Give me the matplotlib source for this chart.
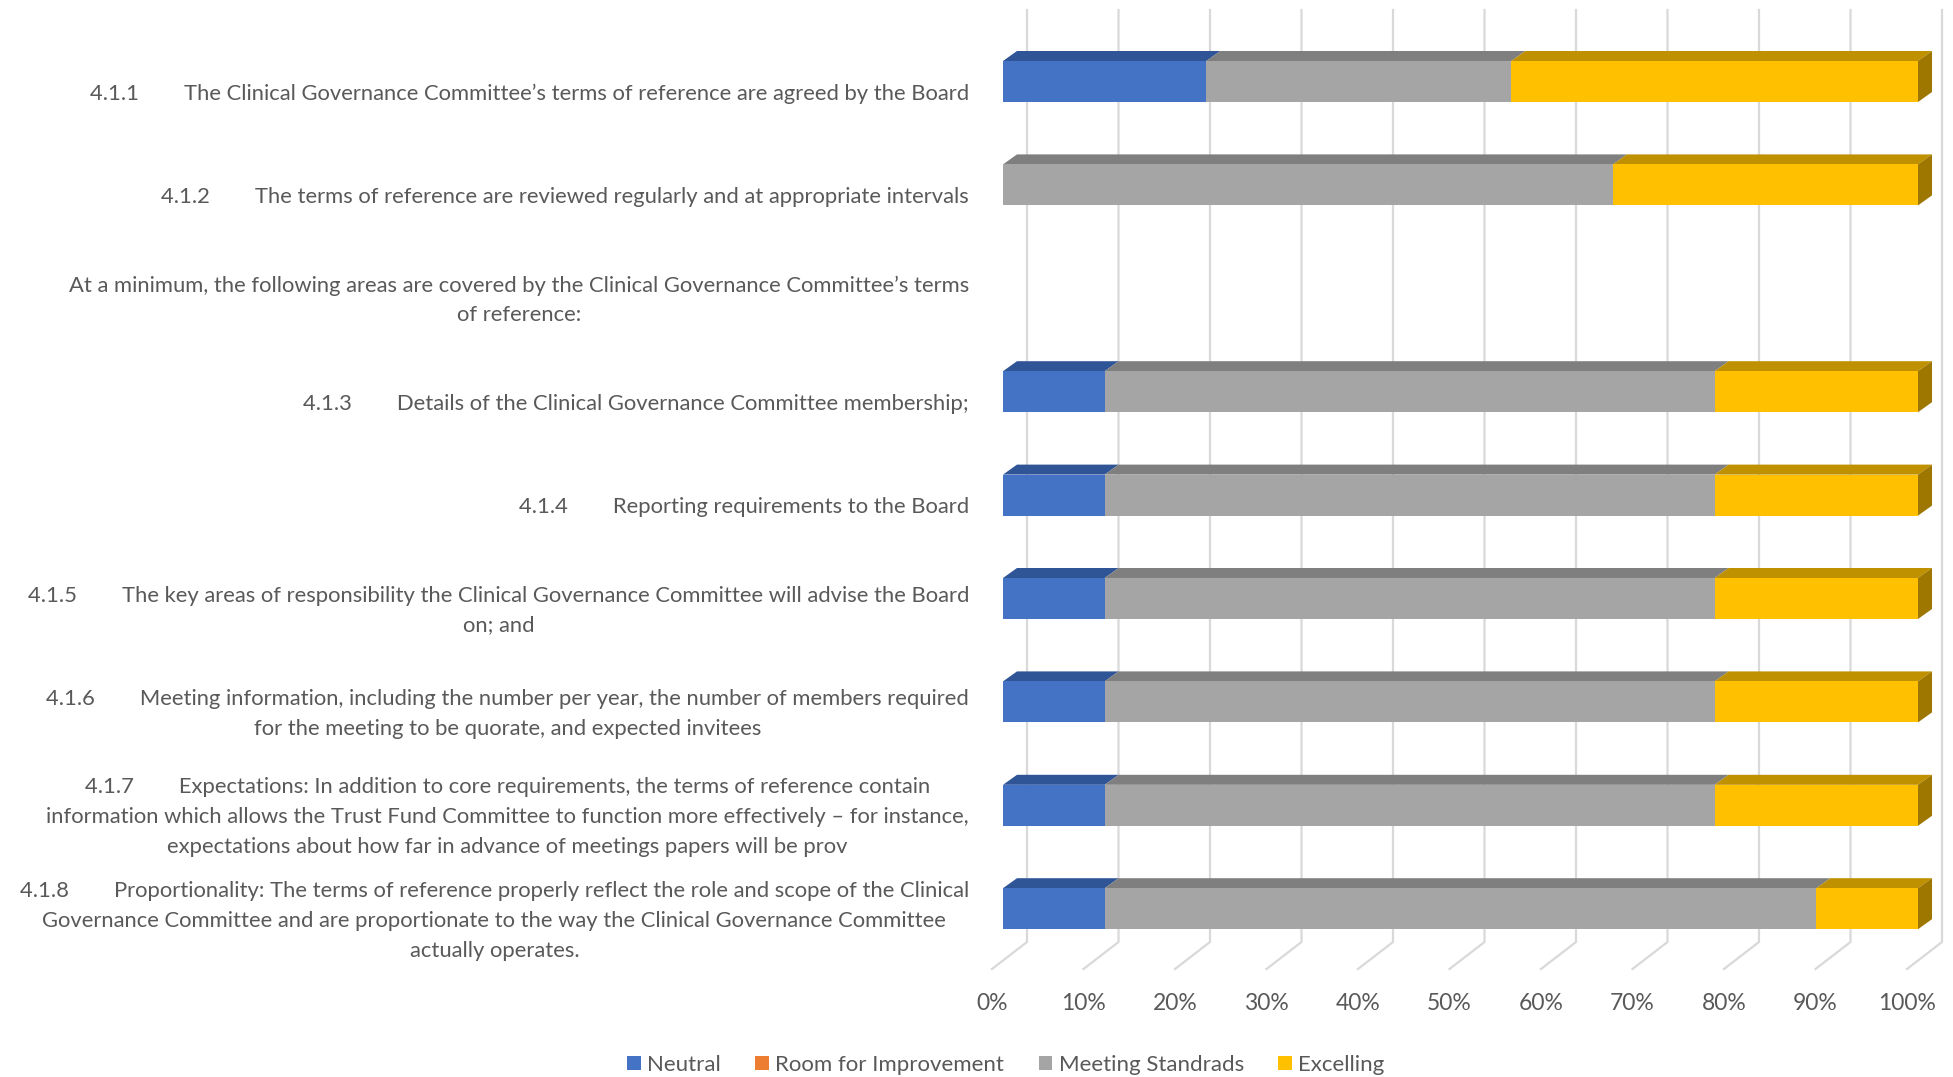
import matplotlib
matplotlib.use("Agg")
import matplotlib.pyplot as plt
from matplotlib.patches import Polygon, Patch
from matplotlib import font_manager

#---------- data ----------

categories = [
    "4.1.1        The Clinical Governance Committee\u2019s terms of reference are agreed by the Board",
    "4.1.2        The terms of reference are reviewed regularly and at appropriate intervals",
    "At a minimum, the following areas are covered by the Clinical Governance Committee\u2019s terms\nof reference:",
    "4.1.3        Details of the Clinical Governance Committee membership;",
    "4.1.4        Reporting requirements to the Board",
    "4.1.5        The key areas of responsibility the Clinical Governance Committee will advise the Board\non; and",
    "4.1.6        Meeting information, including the number per year, the number of members required\nfor the meeting to be quorate, and expected invitees",
    "4.1.7        Expectations: In addition to core requirements, the terms of reference contain\ninformation which allows the Trust Fund Committee to function more effectively \u2013 for instance,\nexpectations about how far in advance of meetings papers will be prov",
    "4.1.8        Proportionality: The terms of reference properly reflect the role and scope of the Clinical\nGovernance Committee and are proportionate to the way the Clinical Governance Committee\nactually operates.",
]

series_names = ["Neutral", "Room for Improvement", "Meeting Standrads", "Excelling"]

# responses per statement (9 respondents)
neutral = [2, 0, 0, 1, 1, 1, 1, 1, 1]
room_for_improvement = [0, 0, 0, 0, 0, 0, 0, 0, 0]
meeting_standards = [3, 6, 0, 6, 6, 6, 6, 6, 7]
excelling = [4, 3, 0, 2, 2, 2, 2, 2, 1]

tick_values = [0, 10, 20, 30, 40, 50, 60, 70, 80, 90, 100]
tick_labels = [f"{v}%" for v in tick_values]

#---------- style ----------

front_colors = ["#4472C4", "#ED7D31", "#A5A5A5", "#FFC000"]
top_colors = ["#2F5597", "#AE5A21", "#7F7F7F", "#BF9000"]
side_colors = ["#264478", "#8A4719", "#6B6B6B", "#9E7700"]
text_color = "#595959"
grid_color = "#D9D9D9"

available = {f.name for f in font_manager.fontManager.ttflist}
font_name = "Liberation Sans Narrow" if "Liberation Sans Narrow" in available else "Lato"
plt.rcParams["font.family"] = [font_name, "DejaVu Sans"]

W, H = 1953, 1077
fig = plt.figure(figsize=(W / 100, H / 100), dpi=100)

# axes spans the front face of the bars: 0..100 % in x, rows in y
x0_px, x1_px = 1003, 1918
row0_px, row_step = 81.5, 103.4
n = len(categories)
top_px = row0_px - 0.5 * row_step
bot_px = row0_px + (n - 0.5) * row_step
ax = fig.add_axes([x0_px / W, 1 - bot_px / H, (x1_px - x0_px) / W, (bot_px - top_px) / H])
ax.set_xlim(0, 100)
ax.set_ylim(n - 0.5, -0.5)
ax.axis("off")

px_x = 100 / (x1_px - x0_px)   # data units per pixel in x
px_y = 1 / row_step            # data units per pixel in y

bar_h = 41 * px_y
bar_dx, bar_dy = 14 * px_x, 10 * px_y
wall_dx, wall_top = 24 * px_x, (10 - row0_px) * px_y
floor_y = (942 - row0_px) * px_y
floor_dx, floor_dy = 35 * px_x, 27 * px_y

#---------- gridlines (back wall + floor) ----------

for t, lab in zip(tick_values, tick_labels):
    xb = t + wall_dx
    ax.plot([xb, xb, xb - floor_dx], [wall_top, floor_y, floor_y + floor_dy],
            color=grid_color, lw=1.6, clip_on=False, zorder=0)
    ax.text(xb - floor_dx, floor_y + floor_dy + 35 * px_y, lab, ha="center", va="center",
            fontsize=16.5, color=text_color, clip_on=False)

#---------- bars ----------

series = [neutral, room_for_improvement, meeting_standards, excelling]
for i in range(n):
    total = sum(s[i] for s in series)
    if total == 0:
        continue
    left = 0
    last = None
    top = i - bar_h / 2
    for k, s in enumerate(series):
        w = s[i] / total * 100
        if w <= 0:
            continue
        ax.barh(i, w, left=left, height=bar_h, color=front_colors[k], lw=0, zorder=3)
        ax.add_patch(Polygon([(left, top), (left + bar_dx, top - bar_dy),
                              (left + w + bar_dx, top - bar_dy), (left + w, top)],
                             closed=True, facecolor=top_colors[k], lw=0, zorder=2, clip_on=False))
        left += w
        last = k
    ax.add_patch(Polygon([(left, top), (left + bar_dx, top - bar_dy),
                          (left + bar_dx, top + bar_h - bar_dy), (left, top + bar_h)],
                         closed=True, facecolor=side_colors[last], lw=0, zorder=2, clip_on=False))

#---------- category labels ----------

for i, cat in enumerate(categories):
    ax.text(-34 * px_x, i + 12 * px_y, cat, ha="right", va="center", multialignment="center",
            fontsize=15.8, color=text_color, linespacing=1.62, clip_on=False)

#---------- legend ----------

handles = [Patch(facecolor=c, edgecolor="none") for c in front_colors]
fig.legend(handles, series_names, loc="center", bbox_to_anchor=(1006 / W, 1 - 1065 / H),
           ncol=4, frameon=False, fontsize=16, labelcolor=text_color,
           handlelength=0.6, handleheight=0.6, handletextpad=0.3, columnspacing=1.55)

fig.savefig("out.png", dpi=100)
